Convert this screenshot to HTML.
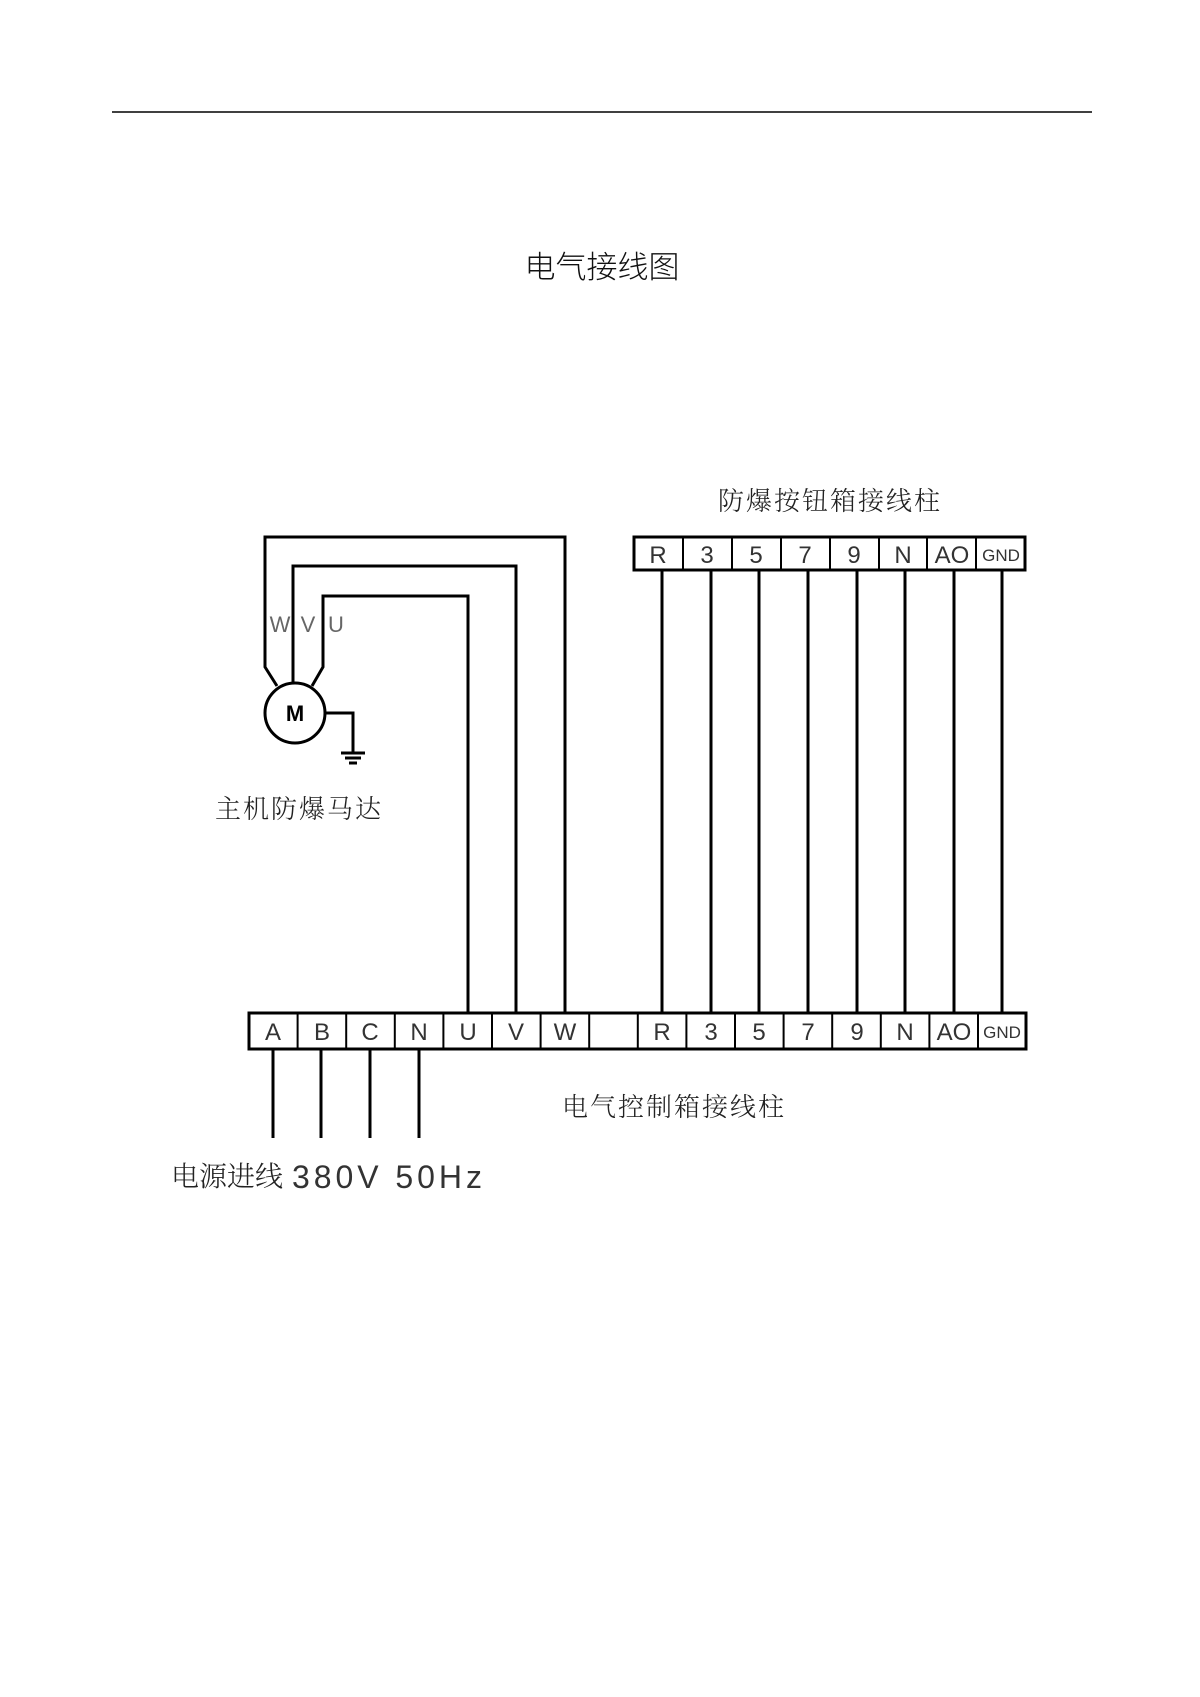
<!DOCTYPE html>
<html><head><meta charset="utf-8"><style>
html,body{margin:0;padding:0;background:#fff;}
svg{display:block}
text{font-family:"Liberation Sans","Noto Sans CJK SC",sans-serif;}
.cj{font-family:"Noto Serif CJK SC","Noto Sans CJK SC",serif;fill:#222;font-weight:300}
.t{font-size:24px;fill:#333;text-anchor:middle;font-weight:300}
</style></head><body>
<svg width="1200" height="1697" viewBox="0 0 1200 1697" xmlns="http://www.w3.org/2000/svg">
<line x1="112" y1="112" x2="1092" y2="112" stroke="#000" stroke-width="1.5"/>
<text x="602" y="278" font-size="31" text-anchor="middle" fill="#111" style="font-family:'Noto Sans CJK SC',sans-serif;font-weight:300">电气接线图</text>
<text class="cj" x="830" y="510" font-size="26" text-anchor="middle" letter-spacing="2">防爆按钮箱接线柱</text>
<text class="cj" x="299" y="818" font-size="26" text-anchor="middle" letter-spacing="2">主机防爆马达</text>
<text class="cj" x="674" y="1116" font-size="26" text-anchor="middle" letter-spacing="2">电气控制箱接线柱</text>
<text class="cj" x="171" y="1186" font-size="28">电源进线</text>
<text x="292" y="1188" font-size="32" fill="#333" style="font-weight:300" textLength="190">380V 50Hz</text>
<g fill="none" stroke="#000" stroke-width="3">
<rect x="634" y="537" width="391" height="33"/>
<rect x="249" y="1013" width="777" height="36"/>
<polyline points="565,1013 565,537 265,537 265,667 277,686"/>
<polyline points="516,1013 516,566 293,566 293,683"/>
<polyline points="468,1013 468,596 323,596 323,667 312,686"/>
<circle cx="295" cy="713" r="30"/>
<polyline points="325,713 353,713 353,753"/>
<line x1="341" y1="753" x2="365" y2="753"/>
<line x1="345" y1="758" x2="361" y2="758"/>
<line x1="349" y1="763" x2="357" y2="763"/>
<line x1="273" y1="1049" x2="273" y2="1138"/>
<line x1="321" y1="1049" x2="321" y2="1138"/>
<line x1="370" y1="1049" x2="370" y2="1138"/>
<line x1="419" y1="1049" x2="419" y2="1138"/>
</g>
<g stroke="#000" stroke-width="2">
<line x1="683" y1="537" x2="683" y2="570"/><line x1="732" y1="537" x2="732" y2="570"/>
<line x1="781" y1="537" x2="781" y2="570"/><line x1="830" y1="537" x2="830" y2="570"/>
<line x1="879" y1="537" x2="879" y2="570"/><line x1="927" y1="537" x2="927" y2="570"/>
<line x1="976" y1="537" x2="976" y2="570"/>
</g>
<g stroke="#000" stroke-width="2">
<line x1="297.6" y1="1013" x2="297.6" y2="1049"/><line x1="346.2" y1="1013" x2="346.2" y2="1049"/>
<line x1="394.8" y1="1013" x2="394.8" y2="1049"/><line x1="443.4" y1="1013" x2="443.4" y2="1049"/>
<line x1="492" y1="1013" x2="492" y2="1049"/><line x1="540.6" y1="1013" x2="540.6" y2="1049"/>
<line x1="589.2" y1="1013" x2="589.2" y2="1049"/><line x1="637.8" y1="1013" x2="637.8" y2="1049"/>
<line x1="686.4" y1="1013" x2="686.4" y2="1049"/><line x1="735" y1="1013" x2="735" y2="1049"/>
<line x1="783.6" y1="1013" x2="783.6" y2="1049"/><line x1="832.2" y1="1013" x2="832.2" y2="1049"/>
<line x1="880.8" y1="1013" x2="880.8" y2="1049"/><line x1="929.4" y1="1013" x2="929.4" y2="1049"/>
<line x1="978" y1="1013" x2="978" y2="1049"/>
</g>
<g stroke="#000" stroke-width="3">
<line x1="662" y1="570" x2="662" y2="1013"/><line x1="711" y1="570" x2="711" y2="1013"/>
<line x1="759" y1="570" x2="759" y2="1013"/><line x1="808" y1="570" x2="808" y2="1013"/>
<line x1="857" y1="570" x2="857" y2="1013"/><line x1="905" y1="570" x2="905" y2="1013"/>
<line x1="954" y1="570" x2="954" y2="1013"/><line x1="1002" y1="570" x2="1002" y2="1013"/>
</g>
<g class="t">
<text x="658" y="563">R</text><text x="707" y="563">3</text><text x="756" y="563">5</text><text x="805" y="563">7</text>
<text x="854" y="563">9</text><text x="903" y="563">N</text><text x="952" y="563">AO</text>
<text x="1001" y="561" style="font-size:17px">GND</text>
</g>
<g class="t">
<text x="273" y="1040">A</text><text x="322" y="1040">B</text><text x="370" y="1040">C</text><text x="419" y="1040">N</text>
<text x="468" y="1040">U</text><text x="516" y="1040">V</text><text x="565" y="1040">W</text>
<text x="662" y="1040">R</text><text x="711" y="1040">3</text><text x="759" y="1040">5</text><text x="808" y="1040">7</text>
<text x="857" y="1040">9</text><text x="905" y="1040">N</text><text x="954" y="1040">AO</text>
<text x="1002" y="1038" style="font-size:17px">GND</text>
</g>
<g class="t" style="font-size:22px;fill:#666">
<text x="280" y="632">W</text><text x="308" y="632">V</text><text x="336" y="632">U</text>
</g>
<text x="295" y="721" font-size="22" font-weight="bold" text-anchor="middle">M</text>
</svg>
</body></html>
